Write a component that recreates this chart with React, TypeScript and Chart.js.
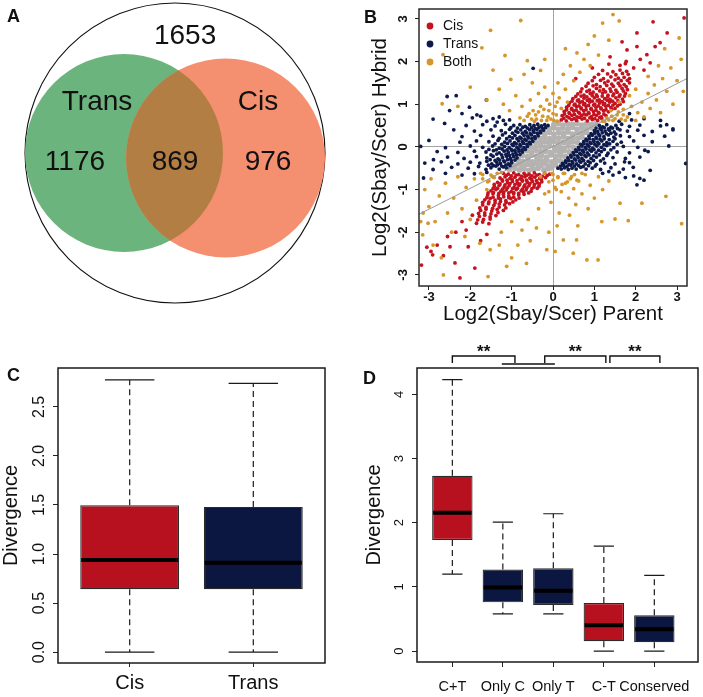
import React, { useEffect, useRef } from 'react';
import { Chart, registerables } from 'chart.js';
Chart.register(...registerables);

const FONT = '"Liberation Sans", Arial, Helvetica, sans-serif';
const INK = '#111111';

// ---------- Panel A : Venn ----------
const vennSets = ['Neither', 'Trans', 'Cis'];
const vennCenterX = [0, -0.34, 0.337];
const vennCenterY = [0, 0, -0.033];
const vennRadius = [1, 0.66, 0.663];
const vennColors = ['#ffffff', '#6bb47d', '#f48f70'];
const vennOverlapColor = '#b27e43';
const vennTexts = ['1653', 'Trans', 'Cis', '1176', '869', '976'];
const vennTextX = [0.067, -0.52, 0.553, -0.667, 0, 0.62];
const vennTextY = [0.78, 0.34, 0.34, -0.06, -0.06, -0.06];

// ---------- Panel B : scatter ----------
const bTicks = [-3, -2, -1, 0, 1, 2, 3];
const bLegend = ['Cis', 'Trans', 'Both'];
const fitLineX = [-3.24, 3.24];
const fitLineY = [-1.58, 1.6];

const nonePoints: number[][] = [
  [-1.05,-0.53],[-0.92,-0.5],[-0.81,-0.54],[-0.7,-0.51],[-0.58,-0.55],[-0.47,-0.52],[-0.36,-0.5],[-0.22,-0.54],[-0.12,-0.51],[-0.03,-0.49],
  [-0.95,-0.43],[-0.83,-0.4],[-0.74,-0.45],[-0.62,-0.41],[-0.51,-0.44],[-0.4,-0.39],[-0.29,-0.43],[-0.17,-0.4],[-0.06,-0.45],[0.06,-0.42],
  [-0.84,-0.3],[-0.73,-0.34],[-0.6,-0.31],[-0.49,-0.35],[-0.38,-0.29],[-0.27,-0.33],[-0.15,-0.3],[-0.03,-0.35],[0.08,-0.31],[0.18,-0.33],
  [-0.74,-0.2],[-0.62,-0.23],[-0.52,-0.19],[-0.4,-0.22],[-0.28,-0.2],[-0.16,-0.24],[-0.05,-0.19],[0.07,-0.22],[0.19,-0.2],[0.3,-0.23],
  [-0.63,-0.09],[-0.52,-0.12],[-0.41,-0.08],[-0.3,-0.11],[-0.19,-0.1],[-0.07,-0.13],[0.05,-0.08],[0.16,-0.11],[0.27,-0.09],[0.39,-0.12],
  [-0.53,0.01],[-0.42,-0.02],[-0.3,0.02],[-0.19,-0.01],[-0.08,0.03],[0.04,-0.02],[0.15,0.01],[0.26,-0.03],[0.37,0.02],[0.49,-0.01],
  [-0.42,0.11],[-0.31,0.08],[-0.2,0.12],[-0.09,0.09],[0.02,0.13],[0.13,0.08],[0.25,0.11],[0.36,0.09],[0.47,0.12],[0.59,0.1],
  [-0.31,0.2],[-0.2,0.23],[-0.08,0.19],[0.03,0.22],[0.14,0.2],[0.26,0.24],[0.37,0.19],[0.48,0.22],[0.6,0.2],[0.7,0.23],
  [-0.2,0.31],[-0.09,0.34],[0.02,0.3],[0.14,0.33],[0.25,0.31],[0.36,0.35],[0.47,0.3],[0.59,0.33],[0.7,0.31],[0.81,0.34],
  [-0.09,0.42],[0.02,0.45],[0.13,0.41],[0.24,0.44],[0.36,0.42],[0.47,0.46],[0.58,0.41],[0.69,0.44],[0.8,0.42],[0.92,0.45],
  [0.02,0.52],[0.13,0.55],[0.24,0.51],[0.36,0.54],[0.47,0.52],[0.58,0.55],[0.7,0.51],[0.81,0.54],[0.92,0.52],[1.03,0.54],
];

const transPoints: number[][] = [
  [-1.12,-0.5],[-1.2,-0.47],[-1.3,-0.52],[-1.38,-0.45],[-1.5,-0.49],[-1.62,-0.53],[-1.8,-0.46],[-2.05,-0.5],[-2.45,-0.48],[-2.9,-0.53],
  [-1.0,-0.37],[-1.08,-0.4],[-1.17,-0.35],[-1.27,-0.39],[-1.36,-0.36],[-1.48,-0.4],[-1.6,-0.34],[-1.77,-0.38],[-2.0,-0.36],[-2.3,-0.4],[-2.7,-0.35],[-3.1,-0.38],
  [-0.87,-0.26],[-0.95,-0.23],[-1.03,-0.27],[-1.12,-0.22],[-1.22,-0.25],[-1.33,-0.28],[-1.45,-0.22],[-1.6,-0.26],[-1.85,-0.23],[-2.15,-0.27],[-2.55,-0.24],
  [-0.74,-0.12],[-0.82,-0.1],[-0.9,-0.14],[-0.99,-0.09],[-1.08,-0.13],[-1.18,-0.1],[-1.3,-0.14],[-1.44,-0.09],[-1.62,-0.12],[-1.9,-0.1],[-2.3,-0.13],[-2.8,-0.11],
  [-0.62,0.01],[-0.7,-0.02],[-0.78,0.02],[-0.87,-0.01],[-0.96,0.03],[-1.06,-0.02],[-1.17,0.01],[-1.3,-0.03],[-1.46,0.02],[-1.7,-0.01],[-2.0,0.02],[-2.6,-0.02],[-3.2,0.01],
  [-0.49,0.13],[-0.57,0.11],[-0.65,0.15],[-0.74,0.12],[-0.83,0.14],[-0.93,0.1],[-1.04,0.14],[-1.17,0.11],[-1.33,0.15],[-1.55,0.12],[-1.85,0.14],[-2.25,0.11],[-3.0,0.15],
  [-0.36,0.26],[-0.44,0.24],[-0.52,0.28],[-0.61,0.25],[-0.7,0.27],[-0.8,0.23],[-0.92,0.27],[-1.05,0.24],[-1.22,0.28],[-1.45,0.25],[-1.75,0.27],[-2.2,0.24],
  [-0.23,0.39],[-0.31,0.37],[-0.39,0.41],[-0.48,0.38],[-0.57,0.4],[-0.67,0.36],[-0.78,0.4],[-0.9,0.37],[-1.05,0.41],[-1.25,0.38],[-1.5,0.4],[-1.9,0.37],[-2.4,0.4],
  [-0.12,0.5],[-0.2,0.52],[-0.28,0.49],[-0.37,0.53],[-0.46,0.5],[-0.56,0.52],[-0.67,0.48],[-0.8,0.52],[-0.95,0.5],[-1.15,0.53],[-1.4,0.49],[-1.7,0.52],[-2.1,0.5],
  [-1.04,-0.44],[-1.14,-0.43],[-1.24,-0.45],[-1.34,-0.42],[-1.44,-0.44],[-1.56,-0.43],
  [-0.92,-0.31],[-1.01,-0.32],[-1.1,-0.3],[-1.19,-0.33],[-1.29,-0.31],[-1.4,-0.32],[-1.52,-0.3],
  [-0.8,-0.18],[-0.88,-0.19],[-0.97,-0.17],[-1.05,-0.2],[-1.14,-0.18],[-1.24,-0.19],[-1.36,-0.17],[-1.5,-0.19],
  [-0.67,-0.06],[-0.75,-0.07],[-0.83,-0.05],[-0.92,-0.08],[-1.01,-0.06],[-1.11,-0.07],[-1.23,-0.05],[-1.37,-0.07],[-1.55,-0.06],
  [-0.55,0.07],[-0.63,0.06],[-0.71,0.08],[-0.8,0.05],[-0.89,0.07],[-0.99,0.06],[-1.1,0.08],[-1.24,0.06],[-1.4,0.07],
  [-0.43,0.2],[-0.51,0.19],[-0.59,0.21],[-0.68,0.18],[-0.77,0.2],[-0.87,0.19],[-0.98,0.21],[-1.12,0.19],[-1.3,0.2],
  [-0.3,0.33],[-0.38,0.32],[-0.46,0.34],[-0.55,0.31],[-0.64,0.33],[-0.74,0.32],[-0.85,0.34],[-0.98,0.32],[-1.15,0.33],
  [-0.18,0.45],[-0.26,0.44],[-0.34,0.46],[-0.43,0.43],[-0.52,0.45],[-0.62,0.44],[-0.73,0.46],[-0.86,0.44],[-1.02,0.45],
  [-1.2,0.62],[-1.45,0.66],[-1.6,0.6],[-1.75,0.72],[-1.95,0.68],[-2.2,0.78],[-1.35,0.58],[-2.5,0.85],[-1.6,-0.6],[-1.9,-0.63],[-2.2,-0.66],[-2.6,-0.62],
  [-0.48,1.84],[-2.56,1.18],[-2.34,1.2],[-2.02,0.93],[-1.84,0.75],[-1.61,1.1],[-2.62,0.55],[-2.89,-0.3],[-3.13,-0.73],[-1.3,0.7],[-2.9,0.65],[-1.05,0.63],
  [1.12,0.5],[1.2,0.47],[1.3,0.52],[1.4,0.46],[1.52,0.5],[1.66,0.53],[1.85,0.48],[2.1,0.51],[2.6,0.49],
  [1.0,0.38],[1.08,0.36],[1.17,0.4],[1.26,0.37],[1.36,0.39],[1.48,0.35],[1.62,0.4],[1.8,0.37],[2.05,0.39],[2.4,0.36],[2.9,0.4],
  [0.87,0.25],[0.95,0.27],[1.04,0.23],[1.13,0.26],[1.23,0.24],[1.34,0.28],[1.47,0.23],[1.63,0.26],[1.85,0.24],[2.2,0.27],[2.7,0.25],
  [0.74,0.12],[0.82,0.14],[0.9,0.1],[0.99,0.13],[1.08,0.11],[1.18,0.14],[1.3,0.1],[1.45,0.13],[1.65,0.11],[1.95,0.14],[2.4,0.12],
  [0.62,-0.01],[0.7,0.02],[0.78,-0.02],[0.87,0.01],[0.96,-0.03],[1.06,0.02],[1.17,-0.01],[1.3,0.03],[1.47,-0.02],[1.7,0.01],[2.05,-0.01],[2.8,0.02],
  [0.49,-0.13],[0.57,-0.11],[0.65,-0.15],[0.74,-0.12],[0.83,-0.14],[0.93,-0.1],[1.04,-0.14],[1.17,-0.11],[1.33,-0.15],[1.55,-0.12],[1.85,-0.14],[2.3,-0.11],
  [0.36,-0.26],[0.44,-0.24],[0.52,-0.28],[0.61,-0.25],[0.7,-0.27],[0.8,-0.23],[0.92,-0.27],[1.05,-0.24],[1.22,-0.28],[1.45,-0.25],[1.75,-0.27],[2.1,-0.24],
  [0.23,-0.39],[0.31,-0.37],[0.39,-0.41],[0.48,-0.38],[0.57,-0.4],[0.67,-0.36],[0.78,-0.4],[0.9,-0.37],[1.05,-0.41],[1.25,-0.38],[1.5,-0.4],[1.85,-0.37],
  [0.12,-0.5],[0.2,-0.52],[0.28,-0.49],[0.37,-0.53],[0.46,-0.5],[0.56,-0.52],[0.67,-0.48],[0.8,-0.52],[0.95,-0.5],[1.15,-0.53],[1.4,-0.49],[1.7,-0.52],
  [1.04,0.44],[1.14,0.43],[1.24,0.45],[1.34,0.42],[1.44,0.44],[1.56,0.43],
  [0.92,0.31],[1.01,0.32],[1.1,0.3],[1.19,0.33],[1.29,0.31],[1.4,0.32],[1.52,0.3],
  [0.8,0.18],[0.88,0.19],[0.97,0.17],[1.05,0.2],[1.14,0.18],[1.24,0.19],[1.36,0.17],[1.5,0.19],
  [0.67,0.06],[0.75,0.07],[0.83,0.05],[0.92,0.08],[1.01,0.06],[1.11,0.07],[1.23,0.05],[1.37,0.07],[1.55,0.06],
  [0.55,-0.07],[0.63,-0.06],[0.71,-0.08],[0.8,-0.05],[0.89,-0.07],[0.99,-0.06],[1.1,-0.08],[1.24,-0.06],[1.4,-0.07],
  [0.43,-0.2],[0.51,-0.19],[0.59,-0.21],[0.68,-0.18],[0.77,-0.2],[0.87,-0.19],[0.98,-0.21],[1.12,-0.19],[1.3,-0.2],
  [0.3,-0.33],[0.38,-0.32],[0.46,-0.34],[0.55,-0.31],[0.64,-0.33],[0.74,-0.32],[0.85,-0.34],[0.98,-0.32],[1.15,-0.33],
  [0.18,-0.45],[0.26,-0.44],[0.34,-0.46],[0.43,-0.43],[0.52,-0.45],[0.62,-0.44],[0.73,-0.46],[0.86,-0.44],[1.02,-0.45],
  [1.2,-0.62],[1.45,-0.66],[1.6,-0.6],[1.75,-0.72],[1.95,-0.68],[2.2,-0.78],[1.35,-0.58],[1.6,0.6],[1.9,0.63],[2.2,0.66],[2.6,0.62],
  [3.21,-0.39],[2.22,-0.08],[2.1,-0.74],[2.03,-0.89],[1.94,-0.48],[1.73,-0.35],[2.9,0.42],[2.75,0.52],[1.85,0.78],[2.35,-0.55],
];

const cisPoints: number[][] = [
  [0.2,0.63],[0.32,0.61],[0.45,0.64],[0.57,0.62],[0.7,0.65],[0.83,0.61],[0.95,0.64],[1.08,0.62],[1.18,0.66],
  [0.22,0.73],[0.34,0.71],[0.46,0.74],[0.58,0.7],[0.69,0.73],[0.81,0.75],[0.93,0.71],[1.05,0.74],[1.17,0.7],[1.28,0.73],
  [0.27,0.83],[0.39,0.8],[0.5,0.84],[0.62,0.81],[0.74,0.85],[0.86,0.8],[0.98,0.83],[1.1,0.81],[1.22,0.85],[1.34,0.82],
  [0.33,0.93],[0.45,0.9],[0.57,0.94],[0.68,0.91],[0.8,0.95],[0.92,0.9],[1.04,0.93],[1.16,0.91],[1.28,0.95],[1.4,0.92],[1.5,0.9],
  [0.4,1.03],[0.53,1.0],[0.65,1.04],[0.77,1.01],[0.89,1.05],[1.01,1.0],[1.13,1.03],[1.25,1.01],[1.37,1.05],[1.5,1.02],[1.62,1.0],
  [0.48,1.13],[0.62,1.1],[0.75,1.14],[0.88,1.11],[1.0,1.15],[1.12,1.1],[1.25,1.13],[1.38,1.11],[1.52,1.15],[1.68,1.12],
  [0.6,1.24],[0.75,1.21],[0.9,1.25],[1.05,1.22],[1.2,1.26],[1.33,1.21],[1.47,1.24],[1.62,1.22],[1.75,1.25],
  [0.7,1.36],[0.88,1.33],[1.05,1.37],[1.22,1.34],[1.38,1.36],[1.52,1.33],[1.67,1.37],[1.8,1.34],
  [0.85,1.49],[1.05,1.46],[1.25,1.5],[1.42,1.47],[1.58,1.49],[1.72,1.46],[1.85,1.5],
  [1.0,1.63],[1.22,1.6],[1.4,1.64],[1.58,1.61],[1.72,1.63],[1.85,1.6],
  [1.2,1.79],[1.45,1.76],[1.62,1.8],[1.78,1.77],[1.35,1.94],[1.62,1.91],[1.75,1.95],
  [0.26,0.67],[0.39,0.68],[0.51,0.66],[0.64,0.69],[0.76,0.67],[0.89,0.68],[1.01,0.66],[1.13,0.69],
  [0.28,0.77],[0.4,0.78],[0.52,0.76],[0.64,0.79],[0.75,0.77],[0.87,0.78],[0.99,0.76],[1.11,0.79],[1.23,0.77],
  [0.33,0.87],[0.45,0.88],[0.56,0.86],[0.68,0.89],[0.8,0.87],[0.92,0.88],[1.04,0.86],[1.16,0.89],[1.28,0.87],[1.42,0.88],
  [0.38,0.97],[0.51,0.98],[0.63,0.96],[0.74,0.99],[0.86,0.97],[0.98,0.98],[1.1,0.96],[1.22,0.99],[1.34,0.97],[1.45,0.98],[1.56,0.96],
  [0.46,1.07],[0.59,1.08],[0.71,1.06],[0.83,1.09],[0.95,1.07],[1.07,1.08],[1.19,1.06],[1.31,1.09],[1.44,1.07],[1.57,1.08],[1.7,1.06],
  [0.55,1.18],[0.68,1.19],[0.82,1.17],[0.95,1.2],[1.07,1.18],[1.19,1.19],[1.32,1.17],[1.45,1.2],[1.6,1.18],[1.73,1.19],
  [0.67,1.29],[0.82,1.3],[0.97,1.28],[1.13,1.31],[1.27,1.29],[1.4,1.3],[1.55,1.28],[1.7,1.31],
  [0.8,1.42],[0.97,1.43],[1.14,1.41],[1.3,1.44],[1.46,1.42],[1.62,1.43],[1.77,1.41],
  [0.95,1.55],[1.15,1.56],[1.33,1.54],[1.5,1.57],[1.65,1.55],[1.8,1.56],
  [1.1,1.7],[1.32,1.71],[1.52,1.69],[1.68,1.72],[1.82,1.7],
  [2.42,2.93],[3.17,3.02],[2.76,2.67],[2.59,2.44],[2.47,2.35],[2.27,2.16],[2.03,2.67],[1.79,2.27],[1.77,2.0],[2.35,1.97],[2.11,2.05],[2.03,2.35],[1.38,2.11],[1.67,2.46],[1.95,1.85],[2.2,1.8],[0.55,1.6],[0.95,1.85],
  [-1.2,-0.62],[-1.08,-0.64],[-0.95,-0.61],[-0.83,-0.65],[-0.7,-0.62],[-0.58,-0.64],[-0.45,-0.61],[-0.33,-0.65],[-0.2,-0.62],[-0.08,-0.64],
  [-1.28,-0.73],[-1.16,-0.7],[-1.04,-0.74],[-0.92,-0.71],[-0.8,-0.75],[-0.68,-0.7],[-0.56,-0.73],[-0.44,-0.71],[-0.32,-0.74],[-0.18,-0.72],
  [-1.34,-0.83],[-1.22,-0.8],[-1.1,-0.84],[-0.98,-0.81],[-0.86,-0.85],[-0.74,-0.8],[-0.62,-0.83],[-0.5,-0.81],[-0.38,-0.84],[-0.27,-0.82],
  [-1.42,-0.93],[-1.3,-0.9],[-1.18,-0.94],[-1.06,-0.91],[-0.94,-0.95],[-0.82,-0.9],[-0.7,-0.93],[-0.58,-0.91],[-0.46,-0.94],[-0.34,-0.92],
  [-1.5,-1.03],[-1.38,-1.0],[-1.26,-1.04],[-1.13,-1.01],[-1.01,-1.05],[-0.89,-1.0],[-0.77,-1.03],[-0.65,-1.01],[-0.53,-1.04],
  [-1.58,-1.13],[-1.45,-1.1],[-1.32,-1.14],[-1.2,-1.11],[-1.07,-1.15],[-0.95,-1.1],[-0.83,-1.13],[-0.7,-1.11],
  [-1.65,-1.24],[-1.52,-1.21],[-1.4,-1.25],[-1.27,-1.22],[-1.14,-1.26],[-1.02,-1.21],[-0.9,-1.24],
  [-1.7,-1.36],[-1.56,-1.33],[-1.43,-1.37],[-1.3,-1.34],[-1.17,-1.36],[-1.05,-1.33],
  [-1.75,-1.49],[-1.62,-1.46],[-1.48,-1.5],[-1.35,-1.47],[-1.2,-1.49],
  [-1.78,-1.63],[-1.65,-1.6],[-1.52,-1.64],[-1.38,-1.61],[-1.85,-1.79],[-1.7,-1.76],[-1.55,-1.8],
  [-1.13,-0.67],[-1.01,-0.68],[-0.89,-0.66],[-0.76,-0.69],[-0.64,-0.67],[-0.51,-0.68],[-0.39,-0.66],[-0.26,-0.69],[-0.14,-0.67],
  [-1.23,-0.77],[-1.11,-0.78],[-0.99,-0.76],[-0.87,-0.79],[-0.75,-0.77],[-0.64,-0.78],[-0.52,-0.76],[-0.4,-0.79],[-0.28,-0.77],
  [-1.42,-0.88],[-1.28,-0.87],[-1.16,-0.89],[-1.04,-0.86],[-0.92,-0.88],[-0.8,-0.87],[-0.68,-0.89],[-0.56,-0.86],[-0.45,-0.88],[-0.33,-0.87],
  [-1.45,-0.98],[-1.34,-0.97],[-1.22,-0.99],[-1.1,-0.96],[-0.98,-0.98],[-0.86,-0.97],[-0.74,-0.99],[-0.63,-0.96],[-0.51,-0.98],[-0.38,-0.97],
  [-1.57,-1.08],[-1.44,-1.07],[-1.31,-1.09],[-1.19,-1.06],[-1.07,-1.08],[-0.95,-1.07],[-0.83,-1.09],[-0.71,-1.06],[-0.59,-1.08],
  [-1.6,-1.19],[-1.45,-1.18],[-1.32,-1.2],[-1.19,-1.17],[-1.07,-1.19],[-0.95,-1.18],[-0.82,-1.2],
  [-1.7,-1.3],[-1.55,-1.29],[-1.4,-1.31],[-1.27,-1.28],[-1.13,-1.3],[-0.97,-1.29],
  [-1.77,-1.43],[-1.62,-1.42],[-1.46,-1.44],[-1.3,-1.41],[-1.14,-1.43],
  [-1.8,-1.56],[-1.65,-1.55],[-1.5,-1.57],[-1.33,-1.54],[-1.82,-1.71],[-1.68,-1.7],[-1.52,-1.69],
  [-2.1,-1.95],[-2.35,-2.0],[-2.55,-2.1],[-2.8,-2.3],[-2.95,-2.45],[-3.18,-2.77],[-2.65,-2.55],[-2.25,-3.07],[-2.05,-2.34],[-1.89,-2.84],[-1.6,-2.05],[-2.49,-2.34],[-2.37,-2.72],[-2.91,-2.53],[-1.95,-1.6],[-2.2,-1.75],[-3.05,-2.35],[-1.75,-2.2],
];

const bothPoints: number[][] = [
  [-0.75,0.95],[-0.62,0.72],[-0.55,1.1],[-0.48,0.85],[-0.4,0.65],[-0.35,1.25],[-0.3,0.95],[-0.25,0.72],[-0.2,1.4],[-0.15,1.1],[-0.1,0.85],[-0.05,0.65],
  [0.0,1.25],[0.05,0.95],[0.08,0.75],[0.12,1.5],[0.15,1.15],[0.2,0.9],[0.25,1.7],[0.3,1.35],[0.35,1.05],[0.42,1.9],[0.5,1.55],[0.58,2.2],[0.65,1.75],
  [0.75,2.05],[0.85,2.4],[0.9,1.9],[1.0,2.6],[1.1,2.15],[1.2,2.9],[1.35,2.5],[-0.9,1.2],[-1.05,0.85],[-1.2,1.0],[-1.3,1.35],[-1.6,1.1],[-2.0,1.4],
  [-2.3,0.95],[-0.8,0.68],[-0.5,1.5],[-0.7,1.7],[-0.2,2.05],[0.3,2.3],[-0.78,2.96],[-1.51,2.73],[-1.72,2.32],[-1.16,2.14],[-0.62,2.02],[-0.3,1.79],
  [-1.02,1.58],[-2.68,1.01],[-2.66,2.16],[-1.45,1.8],[1.45,3.1],[1.6,2.95],[-0.45,0.6],[-0.15,0.62],[0.1,0.6],
  [-0.7,0.62],[-0.58,0.78],[-0.52,0.65],[-0.42,0.75],[-0.35,0.82],[-0.28,0.62],[-0.22,0.88],[-0.12,0.7],[-0.08,1.0],[0.0,0.78],[0.02,0.62],[0.1,1.05],
  [1.25,0.6],[1.35,0.63],[1.42,0.72],[1.5,0.66],[1.58,0.82],[1.7,0.75],[1.75,0.62],
  [1.2,0.6],[1.3,0.68],[1.45,0.62],[1.55,0.75],[1.65,0.65],[1.7,0.88],[1.8,0.7],[1.9,0.95],[2.0,0.62],[2.05,0.8],[2.15,1.05],[2.2,0.7],[2.3,1.25],
  [2.35,0.9],[2.45,1.45],[2.5,1.1],[2.6,0.8],[2.65,1.6],[2.75,1.3],[2.85,1.85],[2.9,1.0],[3.0,1.55],[3.1,2.05],[3.15,1.3],[2.55,1.9],[2.3,1.65],
  [2.0,1.35],[1.85,1.2],[2.7,2.3],[3.05,2.55],[1.6,1.05],[1.4,0.85],
  [-3.1,-1.0],[-3.0,-1.4],[-2.95,-0.75],[-2.85,-1.75],[-2.75,-1.15],[-2.6,-0.85],[-2.55,-1.55],[-2.45,-2.0],[-2.4,-1.2],[-2.3,-0.7],[-2.2,-1.45],
  [-2.1,-0.95],[-2.0,-1.7],[-1.9,-0.75],[-1.85,-1.25],[-1.7,-0.65],[-1.6,-1.0],[-1.55,-0.8],[-1.45,-0.7],[-1.35,-0.62],[-3.2,-1.75],[-3.15,-2.06],
  [-2.9,-2.3],[-3.02,-1.79],[-3.14,-1.55],[-1.52,-2.41],[-1.77,-2.26],[-2.13,-2.1],[-2.7,-2.6],[-2.65,-3.0],[-1.3,-2.3],[-1.0,-2.6],[-1.57,-3.04],
  [-1.12,-2.8],[-0.64,-2.73],[-0.15,-2.41],
  [-1.25,-0.6],[-1.42,-0.72],[-1.5,-0.66],[-1.58,-0.82],[-1.7,-0.75],[-1.75,-0.62],
  [0.7,-0.62],[0.58,-0.78],[0.52,-0.65],[0.42,-0.75],[0.35,-0.82],[0.28,-0.62],[0.22,-0.88],[0.12,-0.7],[0.08,-1.0],[0.0,-0.78],[-0.02,-0.62],[-0.1,-1.05],
  [-0.3,-0.7],[-0.2,-0.62],[-0.1,-0.82],[0.0,-0.65],[0.05,-0.95],[0.12,-0.72],[0.2,-1.05],[0.25,-0.62],[0.3,-0.85],[0.38,-1.2],[0.45,-0.7],
  [0.5,-0.98],[0.55,-1.35],[0.62,-0.8],[0.7,-1.1],[0.78,-0.65],[0.85,-1.45],[0.9,-0.9],[1.0,-1.2],[1.1,-0.7],[1.2,-1.0],[1.35,-0.8],[-0.05,-1.3],
  [0.15,-1.55],[-0.2,-1.1],[0.4,-1.6],[-0.35,-1.45],[0.1,-1.85],[-0.1,-2.0],[0.6,-1.85],[1.62,-1.32],[2.15,-1.32],[2.73,-1.16],[3.11,-1.8],
  [1.5,-1.69],[1.82,-1.73],[0.82,-2.65],[1.09,-2.65],[0.49,-2.49],[0.05,-2.45],[0.25,-2.18],[0.57,-2.18],[1.18,-1.75],[-0.4,-1.9],[-0.6,-1.7],
  [-0.75,-1.95],[-1.0,-1.75],[-1.25,-2.0],[-0.85,-2.3],[-0.55,-2.2],
];

// ---------- Panel C : boxplot ----------
const cCategories = ['Cis', 'Trans'];
const cMin = [0, 0];
const cQ1 = [0.64, 0.64];
const cMedian = [0.938, 0.91];
const cQ3 = [1.497, 1.48];
const cMax = [2.774, 2.74];
const cTicks = [0, 0.5, 1, 1.5, 2, 2.5];

// ---------- Panel D : boxplot ----------
const dCategories = ['C+T', 'Only C', 'Only T', 'C-T', 'Conserved'];
const dMin = [1.2, 0.58, 0.58, 0, 0];
const dQ1 = [1.73, 0.76, 0.72, 0.155, 0.14];
const dMedian = [2.155, 0.99, 0.94, 0.405, 0.34];
const dQ3 = [2.73, 1.27, 1.29, 0.75, 0.56];
const dMax = [4.23, 2.01, 2.14, 1.635, 1.18];
const dTicks = [0, 1, 2, 3, 4];
const dBracketFrom = [1, 2.83, 4.12];
const dBracketTo = [2.24, 4.04, 5.11];
const dBracketText = ['**', '**', '**'];
const dGroupLink = [1.98, 3.03];

const RED = '#b7111f';
const NAVY = '#0b1741';
const cColors = [RED, NAVY];
const dColors = [RED, NAVY, NAVY, RED, NAVY];

const toXY = (pts: number[][]) => pts.map((p) => ({ x: p[0], y: p[1] }));

// ---------- shared plugins ----------
function framePlugin(width: number, color: string) {
  return {
    id: 'frame',
    afterDraw(chart: any) {
      const { ctx, chartArea: a } = chart;
      ctx.save();
      ctx.strokeStyle = color;
      ctx.lineWidth = width;
      ctx.strokeRect(a.left, a.top, a.right - a.left, a.bottom - a.top);
      ctx.restore();
    },
  };
}

function rotatedYLabels(values: number[], fmt: (v: number) => string, font: string, offset: number) {
  return {
    id: 'rotY',
    afterDraw(chart: any) {
      const { ctx, chartArea } = chart;
      const ys = chart.scales.y;
      ctx.save();
      ctx.font = font;
      ctx.fillStyle = INK;
      ctx.textAlign = 'center';
      ctx.textBaseline = 'middle';
      values.forEach((v) => {
        const py = ys.getPixelForValue(v);
        ctx.save();
        ctx.translate(chartArea.left - offset, py);
        ctx.rotate(-Math.PI / 2);
        ctx.fillText(fmt(v), 0, 0);
        ctx.restore();
      });
      ctx.restore();
    },
  };
}

function whiskerPlugin(lo: number[], med: number[], hi: number[], q1: number[], q3: number[], dash: number[]) {
  return {
    id: 'whiskers',
    afterDatasetsDraw(chart: any) {
      const { ctx } = chart;
      const ys = chart.scales.y;
      const els = chart.getDatasetMeta(0).data;
      ctx.save();
      els.forEach((el: any, i: number) => {
        const x = el.x;
        const w = el.width;
        ctx.strokeStyle = '#1a1a1a';
        ctx.lineWidth = 1.2;
        ctx.setLineDash(dash);
        ctx.beginPath();
        ctx.moveTo(x, ys.getPixelForValue(q3[i]));
        ctx.lineTo(x, ys.getPixelForValue(hi[i]));
        ctx.moveTo(x, ys.getPixelForValue(q1[i]));
        ctx.lineTo(x, ys.getPixelForValue(lo[i]));
        ctx.stroke();
        ctx.setLineDash([]);
        ctx.beginPath();
        ctx.moveTo(x - w / 4, ys.getPixelForValue(hi[i]));
        ctx.lineTo(x + w / 4, ys.getPixelForValue(hi[i]));
        ctx.moveTo(x - w / 4, ys.getPixelForValue(lo[i]));
        ctx.lineTo(x + w / 4, ys.getPixelForValue(lo[i]));
        ctx.stroke();
        ctx.strokeStyle = '#000';
        ctx.lineWidth = 4;
        ctx.beginPath();
        ctx.moveTo(x - w / 2 + 1, ys.getPixelForValue(med[i]));
        ctx.lineTo(x + w / 2 - 1, ys.getPixelForValue(med[i]));
        ctx.stroke();
      });
      ctx.restore();
    },
  };
}

// ---------- chart factories ----------
function makeVenn(): any {
  return {
    type: 'scatter',
    data: {
      datasets: [
        {
          label: 'sets',
          data: vennCenterX.map((x, i) => ({ x, y: vennCenterY[i], name: vennSets[i] })),
          pointBackgroundColor: vennColors,
          pointBorderColor: ['#111', 'rgba(0,0,0,0)', 'rgba(0,0,0,0)'],
          pointBorderWidth: [1.1, 0, 0],
          pointRadius: (c: any) => {
            const s = c.chart.scales.x;
            return Math.abs(s.getPixelForValue(vennRadius[c.dataIndex]) - s.getPixelForValue(0));
          },
        },
      ],
    },
    options: {
      animation: false,
      responsive: false,
      devicePixelRatio: 1,
      events: [],
      layout: { padding: 0, autoPadding: false },
      plugins: { legend: { display: false }, tooltip: { enabled: false } },
      scales: {
        x: { type: 'linear', min: -1.1667, max: 1.2333, display: false },
        y: { type: 'linear', min: -1.18, max: 1.02, display: false },
      },
    },
    plugins: [
      {
        id: 'vennOverlap',
        afterDatasetsDraw(chart: any) {
          const { ctx } = chart;
          const els = chart.getDatasetMeta(0).data;
          const g = els[1];
          const s = els[2];
          ctx.save();
          ctx.beginPath();
          ctx.arc(g.x, g.y, g.options.radius, 0, Math.PI * 2);
          ctx.clip();
          ctx.beginPath();
          ctx.arc(s.x, s.y, s.options.radius, 0, Math.PI * 2);
          ctx.fillStyle = vennOverlapColor;
          ctx.fill();
          ctx.restore();
          const xs = chart.scales.x;
          const ys = chart.scales.y;
          ctx.save();
          ctx.font = `28px ${FONT}`;
          ctx.fillStyle = INK;
          ctx.textAlign = 'center';
          ctx.textBaseline = 'middle';
          vennTexts.forEach((t, i) => {
            ctx.fillText(t, xs.getPixelForValue(vennTextX[i]), ys.getPixelForValue(vennTextY[i]));
          });
          ctx.restore();
        },
      },
    ],
  };
}

function makeScatter(): any {
  const zeroGrid = (c: any) => (c.tick && c.tick.value === 0 ? '#a3a3a3' : 'rgba(0,0,0,0)');
  const tickFont = { family: FONT, size: 13, weight: 'bold' };
  return {
    type: 'scatter',
    data: {
      datasets: [
        { label: 'fit', type: 'line', data: fitLineX.map((x, i) => ({ x, y: fitLineY[i] })), borderColor: '#9a9a9a', borderWidth: 1, pointRadius: 0, order: 0 },
        { label: 'Cis', data: toXY(cisPoints), backgroundColor: '#c4121f', pointRadius: 1.9, borderWidth: 0, order: 2 },
        { label: 'Trans', data: toXY(transPoints), backgroundColor: '#0d1a4b', pointRadius: 1.9, borderWidth: 0, order: 3 },
        { label: 'Both', data: toXY(bothPoints), backgroundColor: '#d6962b', pointRadius: 1.9, borderWidth: 0, order: 1 },
        { label: 'None', data: toXY(nonePoints), backgroundColor: '#b5b3b1', pointRadius: 2.9, borderWidth: 0, order: 4 },
      ],
    },
    options: {
      animation: false,
      responsive: false,
      devicePixelRatio: 1,
      events: [],
      layout: { padding: { top: 9, right: 16, left: 0, bottom: 0 }, autoPadding: false },
      plugins: { legend: { display: false }, tooltip: { enabled: false } },
      scales: {
        x: {
          type: 'linear', min: -3.24, max: 3.24,
          afterBuildTicks: (s: any) => { s.ticks = bTicks.map((v) => ({ value: v })); },
          afterFit: (s: any) => { s.height = 44; },
          grid: { color: zeroGrid, lineWidth: 1, drawTicks: true, tickLength: 4, tickColor: '#222', tickWidth: 1 },
          border: { display: false },
          ticks: { font: tickFont, color: INK, padding: 0, maxRotation: 0, autoSkip: false },
          title: { display: true, text: 'Log2(Sbay/Scer) Parent', font: { family: FONT, size: 20.5 }, color: INK, padding: { top: 0, bottom: 3 } },
        },
        y: {
          type: 'linear', min: -3.26, max: 3.23,
          afterBuildTicks: (s: any) => { s.ticks = bTicks.map((v) => ({ value: v })); },
          afterFit: (s: any) => { s.width = 59; },
          grid: { color: zeroGrid, lineWidth: 1, drawTicks: true, tickLength: 4, tickColor: '#222', tickWidth: 1 },
          border: { display: false },
          ticks: { display: false },
          title: { display: true, text: 'Log2(Sbay/Scer) Hybrid', font: { family: FONT, size: 20.5 }, color: INK, padding: { top: 8.5, bottom: 0 } },
        },
      },
    },
    plugins: [
      framePlugin(1.5, '#2a2a2a'),
      rotatedYLabels(bTicks, (v) => String(v), `bold 13px ${FONT}`, 16),
      {
        id: 'bLegend',
        afterDraw(chart: any) {
          const { ctx, chartArea } = chart;
          ctx.save();
          ctx.font = `14px ${FONT}`;
          ctx.textBaseline = 'middle';
          ctx.textAlign = 'left';
          bLegend.forEach((name, i) => {
            const ds = chart.data.datasets.find((d: any) => d.label === name);
            const y = chartArea.top + 17 + i * 18;
            ctx.fillStyle = ds.backgroundColor;
            ctx.beginPath();
            ctx.arc(chartArea.left + 11, y, 3.4, 0, Math.PI * 2);
            ctx.fill();
            ctx.fillStyle = INK;
            ctx.fillText(name, chartArea.left + 24, y + 0.5);
          });
          ctx.restore();
        },
      },
    ],
  };
}

function makeBox(p: any): any {
  return {
    type: 'bar',
    data: {
      datasets: [
        {
          label: 'box',
          data: p.cats.map((_: string, i: number) => ({ x: i + 1, y: [p.q1[i], p.q3[i]] })),
          backgroundColor: p.colors,
          borderColor: '#2a2a2a',
          borderWidth: 1.2,
          borderSkipped: false,
          barPercentage: 0.8,
          categoryPercentage: 1,
        },
      ],
    },
    options: {
      animation: false,
      responsive: false,
      devicePixelRatio: 1,
      events: [],
      layout: { padding: p.pad, autoPadding: false },
      plugins: { legend: { display: false }, tooltip: { enabled: false } },
      scales: {
        x: {
          type: 'linear', min: p.xMin, max: p.xMax, offset: false,
          afterBuildTicks: (s: any) => { s.ticks = p.cats.map((_: string, i: number) => ({ value: i + 1 })); },
          afterFit: (s: any) => { s.height = p.xAxisH; },
          grid: { offset: false, drawOnChartArea: false, drawTicks: true, tickLength: p.xTickLen, tickColor: '#222', color: '#222' },
          border: { display: false },
          ticks: { callback: (_v: any, i: number) => p.cats[i], font: { family: FONT, size: p.xFont }, color: INK, padding: p.xPad, maxRotation: 0, autoSkip: false },
        },
        y: {
          type: 'linear', min: p.yMin, max: p.yMax,
          afterBuildTicks: (s: any) => { s.ticks = p.yTicks.map((v: number) => ({ value: v })); },
          afterFit: (s: any) => { s.width = p.yAxisW; },
          grid: { drawOnChartArea: false, drawTicks: true, tickLength: 5, tickColor: '#222', color: '#222' },
          border: { display: false },
          ticks: { display: false },
          title: { display: true, text: 'Divergence', font: { family: FONT, size: 20, lineHeight: 1 }, color: INK, padding: { top: p.titlePad, bottom: 0 } },
        },
      },
    },
    plugins: [
      whiskerPlugin(p.lo, p.med, p.hi, p.q1, p.q3, [6, 4]),
      framePlugin(1.5, '#1a1a1a'),
      rotatedYLabels(p.yTicks, p.yFmt, p.yFont, p.yLabelOffset),
      ...(p.extra ? [p.extra] : []),
    ],
  };
}

function makeC(): any {
  return makeBox({
    cats: cCategories, lo: cMin, q1: cQ1, med: cMedian, q3: cQ3, hi: cMax, colors: cColors,
    xMin: 0.42, xMax: 2.58, yMin: -0.111, yMax: 2.896, yTicks: cTicks,
    yFmt: (v: number) => v.toFixed(1), yFont: `16px ${FONT}`, yLabelOffset: 18,
    pad: { top: 38, right: 35, left: 0, bottom: 0 }, yAxisW: 58, xAxisH: 34,
    xFont: 20, xPad: 4, xTickLen: 4, titlePad: 1,
  });
}

function makeD(): any {
  const bracketPlugin = {
    id: 'brackets',
    afterDraw(chart: any) {
      const { ctx, chartArea } = chart;
      const xs = chart.scales.x;
      const top = chartArea.top;
      ctx.save();
      ctx.strokeStyle = '#111';
      ctx.lineWidth = 1.4;
      dBracketFrom.forEach((f, i) => {
        const x1 = xs.getPixelForValue(f);
        const x2 = xs.getPixelForValue(dBracketTo[i]);
        ctx.beginPath();
        ctx.moveTo(x1, top - 5);
        ctx.lineTo(x1, top - 12);
        ctx.lineTo(x2, top - 12);
        ctx.lineTo(x2, top - 5);
        ctx.stroke();
        ctx.font = `bold 17px ${FONT}`;
        ctx.fillStyle = INK;
        ctx.textAlign = 'center';
        ctx.textBaseline = 'middle';
        ctx.fillText(dBracketText[i], (x1 + x2) / 2, top - 16);
      });
      ctx.beginPath();
      ctx.moveTo(xs.getPixelForValue(dGroupLink[0]), top - 4);
      ctx.lineTo(xs.getPixelForValue(dGroupLink[1]), top - 4);
      ctx.stroke();
      ctx.restore();
    },
  };
  return makeBox({
    cats: dCategories, lo: dMin, q1: dQ1, med: dMedian, q3: dQ3, hi: dMax, colors: dColors,
    xMin: 0.3, xMax: 5.865, yMin: -0.169, yMax: 4.41, yTicks: dTicks,
    yFmt: (v: number) => String(v), yFont: `13px ${FONT}`, yLabelOffset: 18,
    pad: { top: 38, right: 5, left: 0, bottom: 0 }, yAxisW: 57, xAxisH: 35,
    xFont: 14.5, xPad: 11, xTickLen: 5, titlePad: 4, extra: bracketPlugin,
  });
}

function ChartCanvas(props: { left: number; top: number; width: number; height: number; make: () => any }) {
  const ref = useRef<HTMLCanvasElement>(null);
  useEffect(() => {
    const chart = new Chart(ref.current as HTMLCanvasElement, props.make());
    return () => chart.destroy();
  }, []);
  return (
    <canvas
      ref={ref}
      width={props.width}
      height={props.height}
      style={{ position: 'absolute', left: props.left, top: props.top, width: props.width, height: props.height }}
    />
  );
}

const letterStyle = (left: number, top: number): React.CSSProperties => ({
  position: 'absolute', left, top, font: `bold 18px ${FONT}`, color: INK, lineHeight: '18px', zIndex: 2,
});

export default function App() {
  return (
    <div style={{ position: 'absolute', left: 0, top: 0, width: 703, height: 697, background: '#fff', overflow: 'hidden' }}>
      <ChartCanvas left={0} top={0} width={360} height={330} make={makeVenn} />
      <ChartCanvas left={360} top={0} width={343} height={330} make={makeScatter} />
      <ChartCanvas left={0} top={330} width={360} height={367} make={makeC} />
      <ChartCanvas left={360} top={330} width={343} height={367} make={makeD} />
      <div style={letterStyle(7, 7)}>A</div>
      <div style={letterStyle(364, 8)}>B</div>
      <div style={letterStyle(7, 366)}>C</div>
      <div style={letterStyle(363, 369)}>D</div>
    </div>
  );
}
